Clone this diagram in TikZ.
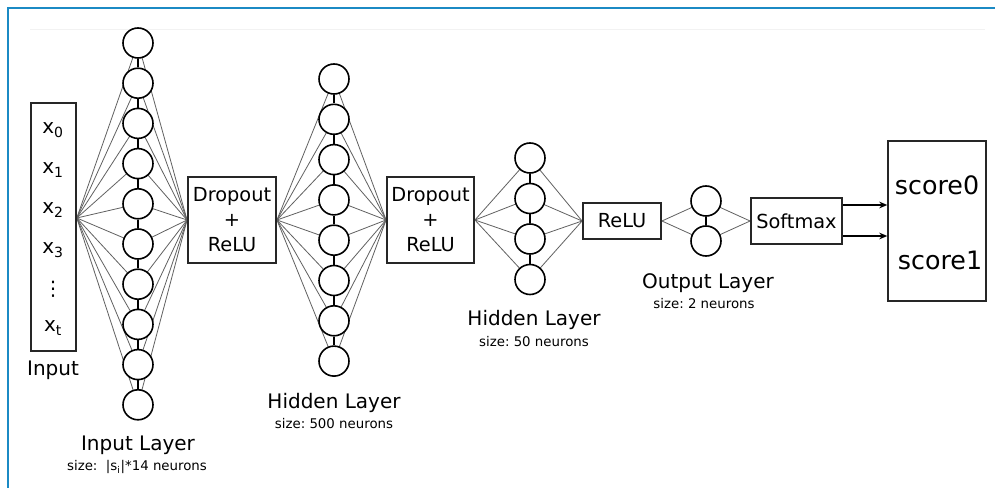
\documentclass[tikz,border=0pt]{standalone}
\usepackage{fontspec}
\setmainfont{DejaVu Sans}
\usetikzlibrary{arrows.meta,calc,backgrounds}
\definecolor{frameblue}{HTML}{1B8AC4}
\begin{document}
\begin{tikzpicture}[x=0.75pt,y=-0.75pt,
  neuron/.style={circle,draw=black,fill=white,line width=1.2pt,minimum size=22.5pt,inner sep=0pt},
  fan/.style={draw=black!62,line width=0.6pt},
  chain/.style={draw=black,line width=1.2pt},
  opbox/.style={draw=black!85,fill=white,line width=1.4pt,align=center,inner sep=0pt,
                font=\fontsize{14.5}{18.75}\selectfont},
  lbl/.style={font=\fontsize{15}{18}\selectfont},
  sublbl/.style={font=\fontsize{10}{12}\selectfont},
  xin/.style={font=\fontsize{15}{18}\selectfont},
  outarrow/.style={draw=black,line width=0.9pt,-{Stealth[length=6pt,width=5pt]}}]

\useasboundingbox (0,0) rectangle (995,488);

% input box
\node[draw=black!85,line width=1.2pt,minimum width=33.75pt,minimum height=186pt,inner sep=0pt] (inbox) at (53.5,227) {};
\node[xin] (x0) at (53,130) {x\textsubscript{0}};
\node[xin] (x1) at (53,170) {x\textsubscript{1}};
\node[xin] (x2) at (53,210) {x\textsubscript{2}};
\node[xin] (x3) at (53,250) {x\textsubscript{3}};
\node[xin] (xd) at (53,289) {⋮};
\node[xin] (xt) at (53,328) {x\textsubscript{t}};
\node[lbl] (inlbl) at (53,370) {Input};
\coordinate (inP) at ([yshift=6.75pt]inbox.east);

% nodes
\foreach \i in {0,...,9} {
  \node[neuron] (a\i) at (138,{43+40.2*\i}) {};
}
\node[opbox,minimum width=66pt,minimum height=64.5pt] (d1) at (232,220) {Dropout\\+\\ReLU};
\foreach \i in {0,...,7} {
  \node[neuron] (b\i) at (334,{79+40.3*\i}) {};
}
\node[opbox,minimum width=65.25pt,minimum height=64.5pt] (d2) at (430.5,220) {Dropout\\+\\ReLU};
\foreach \i in {0,...,3} {
  \node[neuron] (c\i) at (530,{158+40.5*\i}) {};
}
\node[opbox,minimum width=58.5pt,minimum height=27pt] (r3) at (622,221) {ReLU};
\node[neuron] (o0) at (706,201) {};
\node[neuron] (o1) at (706,241) {};
\node[opbox,minimum width=68.25pt,minimum height=34.5pt] (sm) at (796.5,221) {Softmax};
\node[draw=black!85,line width=1.1pt,minimum width=73.5pt,minimum height=120pt,inner sep=0pt] (score) at (937,221) {};
\node[font=\fontsize{19}{22}\selectfont] (sc0) at (937,185) {score0};
\node[font=\fontsize{19}{22}\selectfont] (sc1) at (940,260) {score1};

% labels
\node[lbl] (l1) at (138,445) {Input Layer};
\node[sublbl] (s1) at (137,467) {size:\ \ |s\textsubscript{i}|*14 neurons};
\node[lbl] (l2) at (334,403) {Hidden Layer};
\node[sublbl] (s2) at (334,424) {size:\ 500 neurons};
\node[lbl] (l3) at (534,320) {Hidden Layer};
\node[sublbl] (s3) at (534,342) {size:\ 50 neurons};
\node[lbl] (l4) at (708,283) {Output Layer};
\node[sublbl] (s4) at (704,304) {size:\ 2 neurons};

% connectors behind the nodes
\begin{scope}[on background layer]
  \fill[white] (0,0) rectangle (995,488);
  \draw[black!5,line width=0.6pt] (30,29) -- (985,29);
  \foreach \i in {0,...,9} {
    \draw[fan] (inP) -- (a\i.center);
    \draw[fan] (a\i.center) -- (d1.west);
  }
  \foreach \i [count=\j from 1] in {0,...,8} {
    \draw[chain] (a\i) -- (a\j);
  }
  \foreach \i in {0,...,7} {
    \draw[fan] (d1.east) -- (b\i.center);
    \draw[fan] (b\i.center) -- (d2.west);
  }
  \foreach \i [count=\j from 1] in {0,...,6} {
    \draw[chain] (b\i) -- (b\j);
  }
  \foreach \i in {0,...,3} {
    \draw[fan] (d2.east) -- (c\i.center);
    \draw[fan] (c\i.center) -- (r3.west);
  }
  \foreach \i [count=\j from 1] in {0,...,2} {
    \draw[chain] (c\i) -- (c\j);
  }
  \foreach \i in {0,1} {
    \draw[fan] (r3.east) -- (o\i.center);
    \draw[fan] (o\i.center) -- (sm.west);
  }
  \draw[chain] (o0) -- (o1);
\end{scope}
\draw[frameblue,line width=1.5pt] (8,488) -- (8,8) -- (995,8);

\draw[outarrow] ([yshift=12pt]sm.east) -- ([yshift=12pt]score.west);
\draw[outarrow] ([yshift=-11.25pt]sm.east) -- ([yshift=-11.25pt]score.west);
\end{tikzpicture}
\end{document}
